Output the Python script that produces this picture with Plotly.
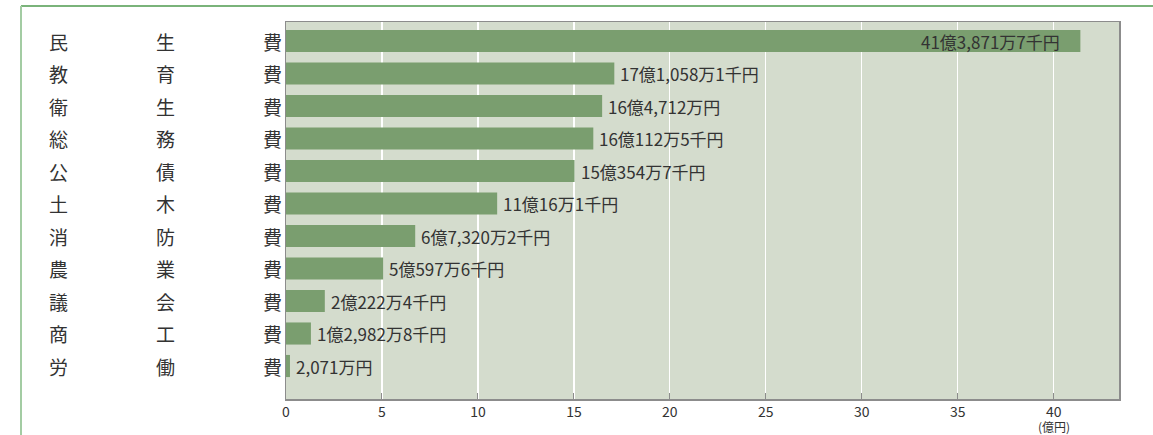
import plotly.graph_objects as go

categories = ["民生費", "教育費", "衛生費", "総務費", "公債費", "土木費",
              "消防費", "農業費", "議会費", "商工費", "労働費"]
values = [41.38717, 17.10581, 16.4712, 16.01125, 15.03547, 11.00161,
          6.73202, 5.05976, 2.02224, 1.29828, 0.2071]
value_labels = ["41億3,871万7千円", "17億1,058万1千円", "16億4,712万円", "16億112万5千円",
                "15億354万7千円", "11億16万1千円", "6億7,320万2千円", "5億597万6千円",
                "2億222万4千円", "1億2,982万8千円", "2,071万円"]
x_ticks = [0, 5, 10, 15, 20, 25, 30, 35, 40]
unit_label = "(億円)"

W, H = 1153, 435
L, R, T, B = 286, 34, 22, 36
pw = W - L - R
ph = H - T - B

def px_to_paper_x(px):
    return (px - L) / pw

def px_to_paper_y(py):
    return (H - B - py) / ph

FONT = "Noto Sans CJK JP"
TXT = "#333333"

fig = go.Figure()
fig.add_trace(go.Bar(
    x=values, y=list(range(len(categories))), orientation="h",
    marker=dict(color="#7a9e6f", line=dict(width=0)),
    width=0.68, hoverinfo="skip",
))

annotations = []
char_x = [58, 165, 272]
for i, cat in enumerate(categories):
    for j, ch in enumerate(cat):
        annotations.append(dict(
            x=px_to_paper_x(char_x[j]), xref="paper", y=i, yref="y",
            text=ch, showarrow=False, xanchor="center", yanchor="middle",
            font=dict(family=FONT, size=19, color=TXT)))
    inside = values[i] > 30
    annotations.append(dict(
        x=values[i], xref="x", y=i, yref="y", text=value_labels[i],
        showarrow=False, xanchor="right" if inside else "left",
        xshift=-18 if inside else 4, yanchor="middle",
        font=dict(family=FONT, size=17, color=TXT)))

annotations.append(dict(
    x=40, xref="x", y=px_to_paper_y(426), yref="paper", text=unit_label,
    showarrow=False, xanchor="center", yanchor="middle",
    font=dict(family=FONT, size=12, color=TXT)))

shapes = [
    dict(type="line", xref="paper", yref="paper",
         x0=px_to_paper_x(21), x1=px_to_paper_x(W + 5),
         y0=px_to_paper_y(6), y1=px_to_paper_y(6),
         line=dict(color="#4e9a4e", width=1.5)),
    dict(type="line", xref="paper", yref="paper",
         x0=px_to_paper_x(21), x1=px_to_paper_x(21),
         y0=px_to_paper_y(6), y1=px_to_paper_y(H + 5),
         line=dict(color="#a3cca3", width=2)),
]

fig.update_layout(
    width=W, height=H,
    margin=dict(l=L, r=R, t=T, b=B, pad=0),
    paper_bgcolor="white", plot_bgcolor="#d4dccd",
    showlegend=False, bargap=0.32,
    annotations=annotations, shapes=shapes,
    xaxis=dict(range=[0, 43.4], tickvals=x_ticks, ticktext=[str(v) for v in x_ticks],
               showgrid=True, gridcolor="white", gridwidth=1.2,
               ticks="inside", ticklen=6, tickcolor="#8c8c8c", tickwidth=1,
               showline=True, linecolor="#8c8c8c", linewidth=1.5, mirror=True,
               zeroline=False, fixedrange=True,
               tickfont=dict(family=FONT, size=14, color=TXT)),
    yaxis=dict(range=[11.015, -0.585], showticklabels=False, showgrid=False,
               ticks="", zeroline=False,
               showline=True, linecolor="#8c8c8c", linewidth=1.5, mirror=True,
               fixedrange=True),
)

fig.write_html("out.html", config={"staticPlot": True},
               post_script="document.body.style.margin='0px';document.body.style.overflow='hidden';")
